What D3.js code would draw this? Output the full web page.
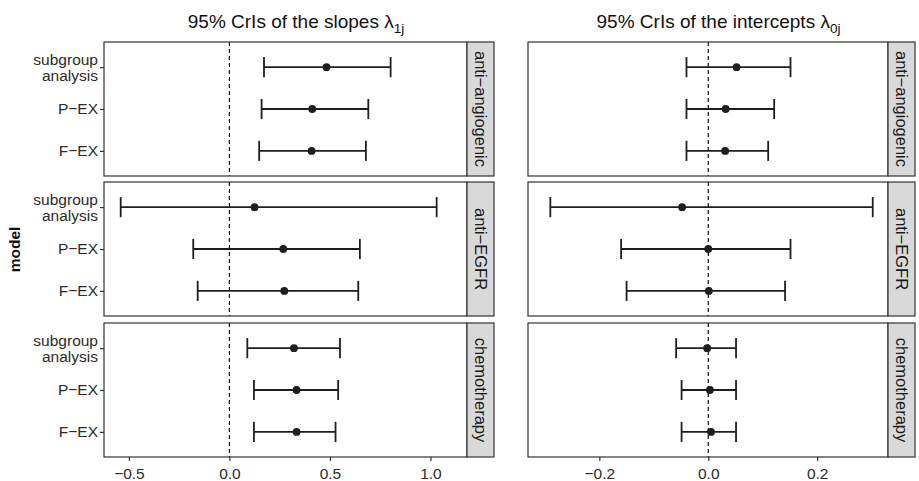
<!DOCTYPE html>
<html>
<head>
<meta charset="utf-8">
<script src="https://cdn.jsdelivr.net/npm/d3@7"></script>
<style>
  html, body { margin: 0; padding: 0; background: #fff; }
  svg { display: block; font-family: "Liberation Sans", Arial, Helvetica, sans-serif; }
</style>
</head>
<body>
<svg id="chart" width="919" height="481"></svg>
<script>
// ---- data ----
const models = ["subgroup analysis", "P\u2212EX", "F\u2212EX"];
const groups = ["anti\u2212angiogenic", "anti\u2212EGFR", "chemotherapy"];

// slopes lambda_1j : rows = groups, cols = models
const slopeEst   = [[0.483, 0.412, 0.409], [0.125, 0.268, 0.273], [0.321, 0.334, 0.334]];
const slopeLower = [[0.172, 0.160, 0.148], [-0.541, -0.180, -0.158], [0.089, 0.122, 0.122]];
const slopeUpper = [[0.802, 0.691, 0.679], [1.031, 0.649, 0.641], [0.550, 0.541, 0.528]];

// intercepts lambda_0j
const interEst   = [[0.052, 0.032, 0.031], [-0.048, 0.000, 0.001], [-0.002, 0.003, 0.005]];
const interLower = [[-0.040, -0.040, -0.040], [-0.290, -0.160, -0.150], [-0.059, -0.049, -0.049]];
const interUpper = [[0.151, 0.121, 0.110], [0.302, 0.151, 0.141], [0.051, 0.051, 0.051]];

const slopeTicks = [-0.5, 0.0, 0.5, 1.0];
const interTicks = [-0.2, 0.0, 0.2];

// ---- layout ----
const svg = d3.select("#chart");
const panelTops = [42, 182, 323];
const panelH = 134;
const stripW = 27;
const ink = "#1e1e1e";

const cols = [
  { x0: 104, x1: 467, domain: [-0.624, 1.182], ticks: slopeTicks,
    est: slopeEst, lo: slopeLower, hi: slopeUpper, yAxis: true,
    title: ["95% CrIs of the slopes \u03bb", "1j"] },
  { x0: 528, x1: 888, domain: [-0.331, 0.330], ticks: interTicks,
    est: interEst, lo: interLower, hi: interUpper, yAxis: false,
    title: ["95% CrIs of the intercepts \u03bb", "0j"] }
];

const fmt = d3.format(".1f");

cols.forEach(col => {
  const x = d3.scaleLinear().domain(col.domain).range([col.x0, col.x1]);

  // title
  const t = svg.append("text")
    .attr("x", (col.x0 + col.x1 + stripW) / 2 - 3)
    .attr("y", 28)
    .attr("text-anchor", "middle")
    .attr("font-size", 19)
    .attr("fill", "#111");
  t.append("tspan").text(col.title[0]);
  t.append("tspan").attr("dy", 5).attr("font-size", 13.5).text(col.title[1]);

  groups.forEach((g, gi) => {
    const top = panelTops[gi];
    const y = d3.scalePoint().domain(models).range([top, top + panelH]).padding(0.6);
    const p = svg.append("g");

    // panel background
    p.append("rect").attr("x", col.x0).attr("y", top)
      .attr("width", col.x1 - col.x0).attr("height", panelH)
      .attr("fill", "#fff");

    // zero reference line
    p.append("line")
      .attr("x1", x(0)).attr("x2", x(0))
      .attr("y1", top).attr("y2", top + panelH)
      .attr("stroke", "#111").attr("stroke-width", 1.2)
      .attr("stroke-dasharray", "4,3");

    const rows = models.map((m, mi) => ({
      m, est: col.est[gi][mi], lo: col.lo[gi][mi], hi: col.hi[gi][mi]
    }));
    const capH = y.step() * 0.24;

    const eb = p.selectAll(".eb").data(rows).join("g");
    eb.append("line")
      .attr("x1", d => x(d.lo)).attr("x2", d => x(d.hi))
      .attr("y1", d => y(d.m)).attr("y2", d => y(d.m))
      .attr("stroke", ink).attr("stroke-width", 1.8);
    eb.append("line")
      .attr("x1", d => x(d.lo)).attr("x2", d => x(d.lo))
      .attr("y1", d => y(d.m) - capH).attr("y2", d => y(d.m) + capH)
      .attr("stroke", ink).attr("stroke-width", 1.8);
    eb.append("line")
      .attr("x1", d => x(d.hi)).attr("x2", d => x(d.hi))
      .attr("y1", d => y(d.m) - capH).attr("y2", d => y(d.m) + capH)
      .attr("stroke", ink).attr("stroke-width", 1.8);
    eb.append("circle")
      .attr("cx", d => x(d.est)).attr("cy", d => y(d.m))
      .attr("r", 3.9).attr("fill", ink);

    // panel border
    p.append("rect").attr("x", col.x0).attr("y", top)
      .attr("width", col.x1 - col.x0).attr("height", panelH)
      .attr("fill", "none").attr("stroke", "#333").attr("stroke-width", 1.2);

    // strip
    p.append("rect").attr("x", col.x1).attr("y", top)
      .attr("width", stripW).attr("height", panelH)
      .attr("fill", "#d9d9d9").attr("stroke", "#333").attr("stroke-width", 1.2);
    p.append("text")
      .attr("transform", `translate(${col.x1 + stripW / 2},${top + panelH / 2}) rotate(90)`)
      .attr("text-anchor", "middle")
      .attr("dominant-baseline", "central")
      .attr("font-size", 16.5)
      .attr("fill", "#1a1a1a")
      .text(g);

    // y axis
    if (col.yAxis) {
      const ya = p.append("g").attr("transform", `translate(${col.x0},0)`)
        .call(d3.axisLeft(y).tickSize(4).tickFormat(""));
      ya.select(".domain").remove();
      ya.selectAll(".tick line").attr("stroke", "#333").attr("stroke-width", 1.2);
      rows.forEach(d => {
        const words = d.m === models[0] ? ["subgroup", "analysis"] : [d.m];
        const tx = p.append("text")
          .attr("x", col.x0 - 6)
          .attr("text-anchor", "end")
          .attr("font-size", 15.5)
          .attr("fill", "#2b2b2b");
        const lh = 16;
        const y0 = y(d.m) - (words.length - 1) * lh / 2;
        words.forEach((w, wi) => {
          tx.append("tspan").attr("x", col.x0 - 6)
            .attr("y", y0 + wi * lh)
            .attr("dy", "0.35em")
            .text(w);
        });
      });
    }

    // x axis on bottom panel
    if (gi === groups.length - 1) {
      const xa = p.append("g").attr("transform", `translate(0,${top + panelH})`)
        .call(d3.axisBottom(x).tickValues(col.ticks).tickSize(4).tickFormat(fmt));
      xa.select(".domain").remove();
      xa.selectAll(".tick line").attr("stroke", "#333").attr("stroke-width", 1.2);
      xa.selectAll(".tick text")
        .attr("font-size", 15.5)
        .attr("font-family", "Liberation Sans, Arial, sans-serif")
        .attr("fill", "#2b2b2b")
        .attr("dy", "0.95em");
    }
  });
});

// y axis title
svg.append("text")
  .attr("transform", `translate(20,${(panelTops[0] + panelTops[2] + panelH) / 2}) rotate(-90)`)
  .attr("text-anchor", "middle")
  .attr("font-size", 15.5)
  .attr("font-weight", "bold")
  .attr("fill", "#111")
  .text("model");
</script>
</body>
</html>
